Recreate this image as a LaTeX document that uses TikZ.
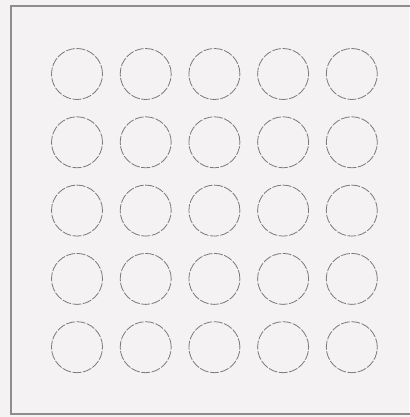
\documentclass[tikz,border=0pt]{standalone}
\usepackage{xcolor}
\usepackage{tikz}
\definecolor{paper}{HTML}{F4F2F2}
\definecolor{rim}{HTML}{8E8E8E}
\definecolor{ring}{HTML}{7A7A7A}

\begin{document}
\begin{tikzpicture}[x=1pt,y=-1pt]

\tikzset{
frame/.style={
    draw=rim,
    line width=1.2pt
},
cell/.style={
    circle,
    draw=ring,
    line width=0.8pt,
    dash pattern=on 9pt off 1.5pt,
    minimum size=51pt,
    inner sep=0pt
}
}

\fill[paper] (0,0) rectangle (409,417);
\useasboundingbox (0,0) rectangle (409,417);

% frame runs off the right edge
\coordinate (tr) at (410,6);
\coordinate (tl) at (11,6);
\coordinate (bl) at (11,414);
\coordinate (br) at (410,414);
\draw[frame] (tr) -- (tl) -- (bl) -- (br);

\foreach \i in {0,...,4}{
  \foreach \j in {0,...,4}{
    \node[cell] (c-\i-\j) at (77+68.7*\i,74+68.3*\j) {};
  }
}

\end{tikzpicture}
\end{document}
